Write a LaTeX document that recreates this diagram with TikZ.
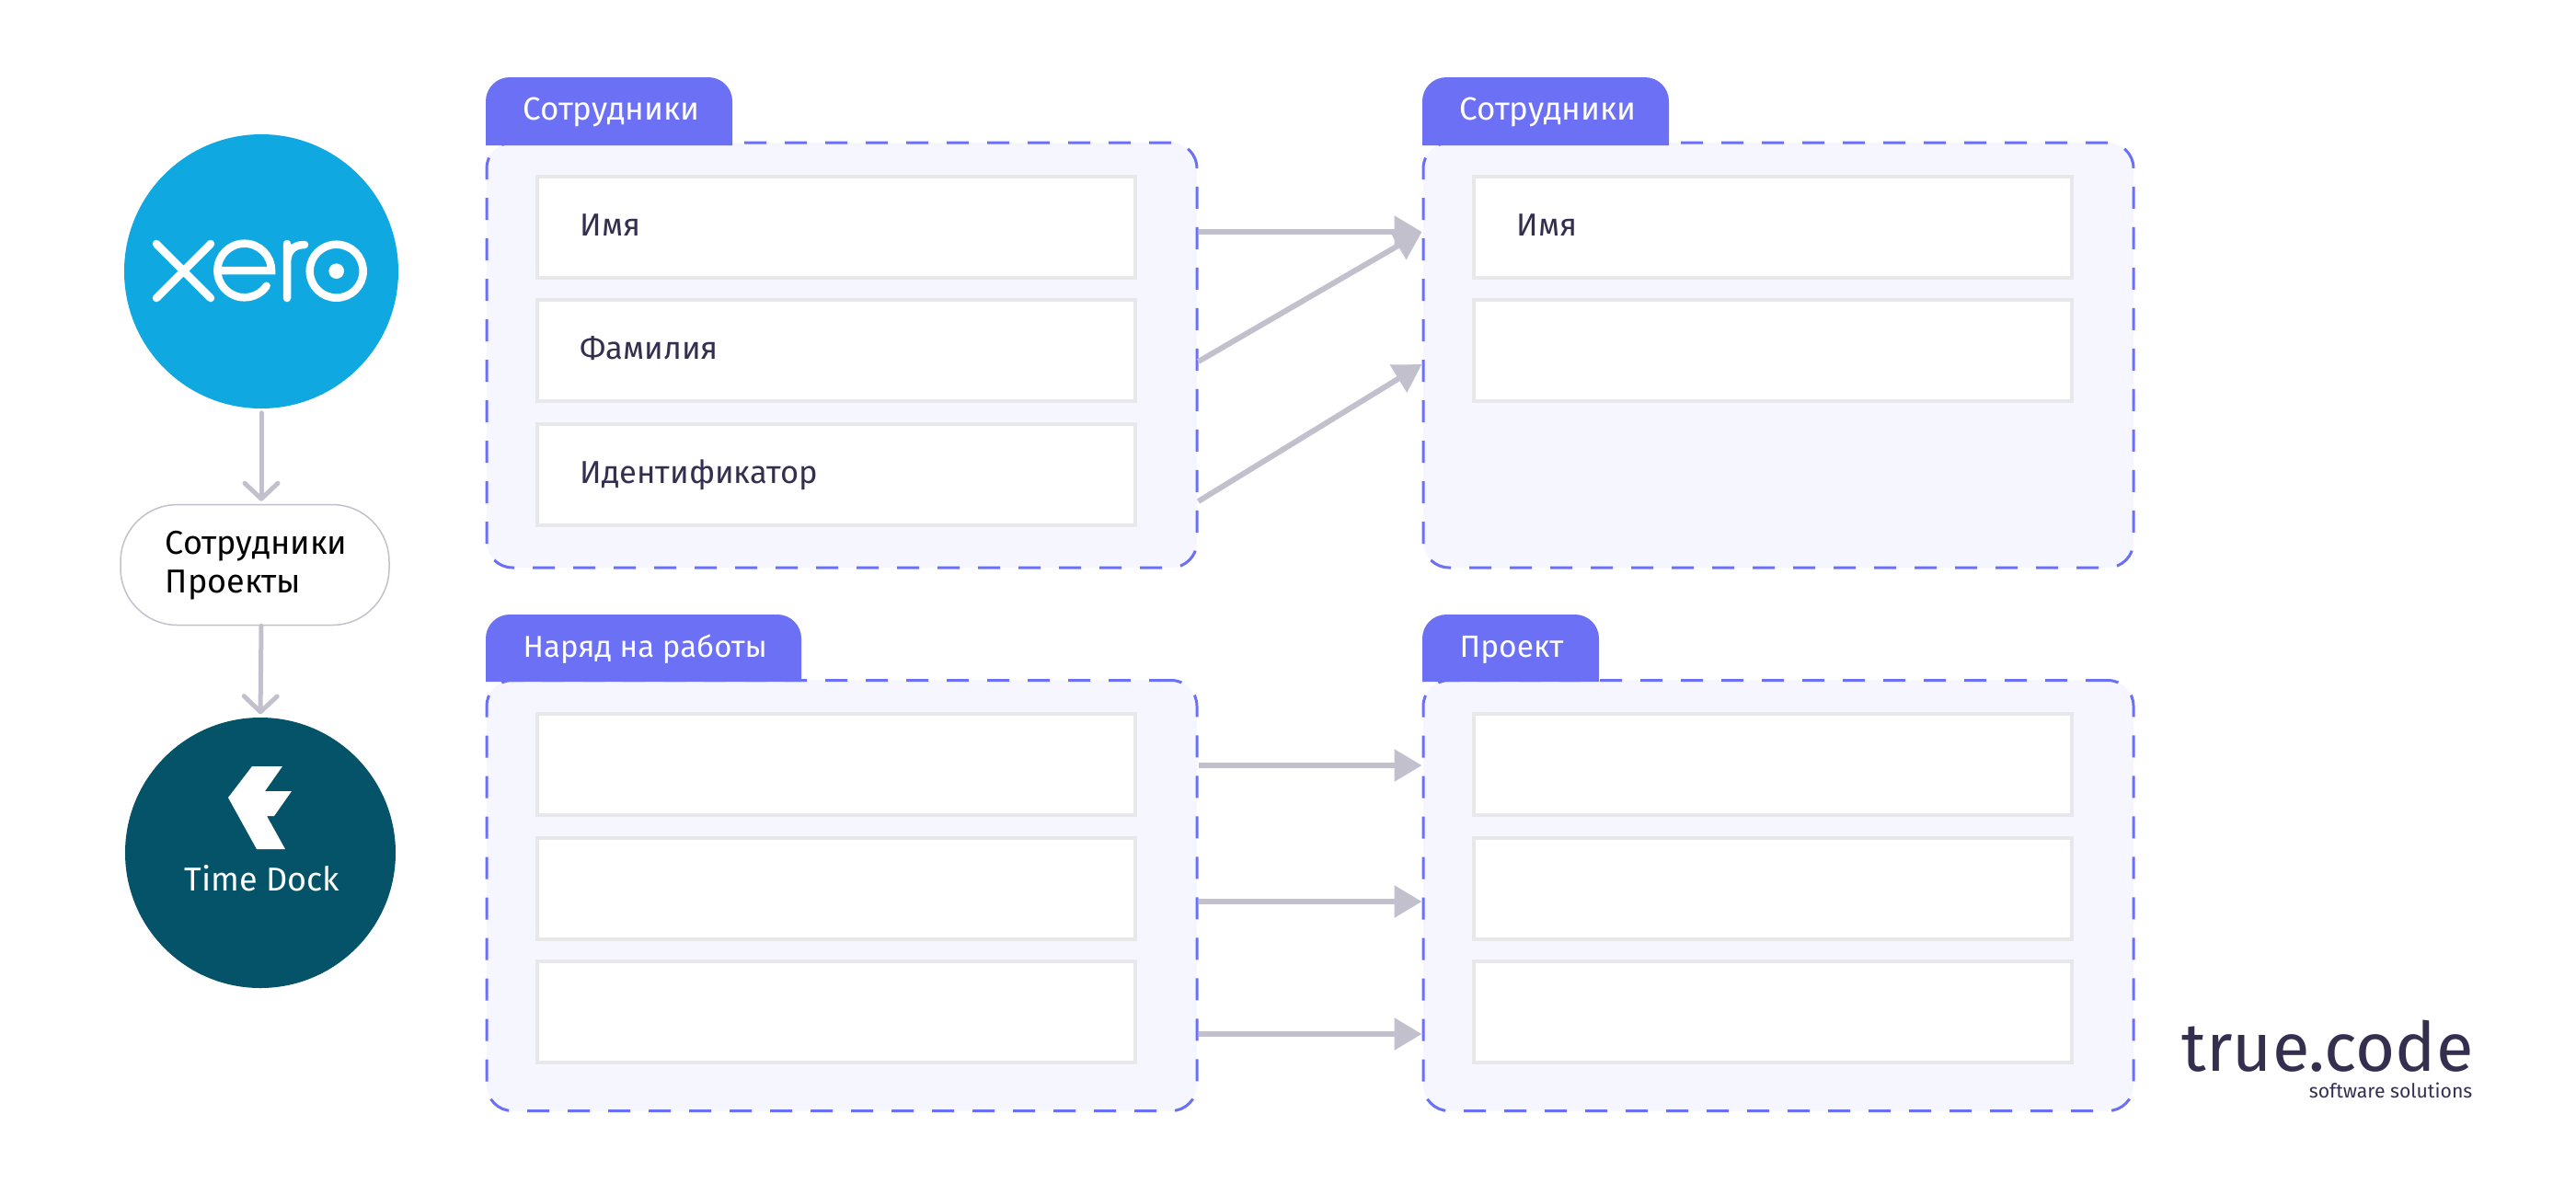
\documentclass[tikz,border=0pt]{standalone}
\usepackage{xcolor}
\usepackage{fontspec}
\setmainfont{Fira Sans}
\usepackage{tikz}
\usetikzlibrary{arrows.meta}
\definecolor{tabcolor}{HTML}{6B70F5}
\definecolor{panelcolor}{HTML}{F5F6FF}
\definecolor{rowcolor}{HTML}{E8E8EA}
\definecolor{flowcolor}{HTML}{C3C0CD}
\definecolor{inkcolor}{HTML}{342E4F}
\definecolor{xerocolor}{HTML}{0FA8E0}
\definecolor{dockcolor}{HTML}{055369}
\tikzset{
  panel/.style={draw=tabcolor, fill=panelcolor, rectangle, line width=0.03cm, rounded corners=0.28cm, dash pattern=on 0.24cm off 0.2cm, minimum width=7.72cm, inner sep=0pt},
  tabshape/.style={fill=tabcolor},
  tabtext/.style={anchor=base west, inner sep=0pt, text=white, font=\fontsize{0.35cm}{0.42cm}\selectfont},
  row/.style={draw=rowcolor, fill=white, rectangle, line width=0.04cm, minimum width=6.5cm, minimum height=1.1cm, inner sep=0pt},
  rowtext/.style={anchor=base west, inner sep=0pt, text=inkcolor, font=\fontsize{0.345cm}{0.42cm}\selectfont},
  flow/.style={draw=flowcolor, line width=0.06cm, -{Triangle[length=0.3cm,width=0.34cm]}},
  down/.style={draw=flowcolor, line width=0.05cm, line cap=round, -{Straight Barb[length=0.17cm,width=0.36cm,round]}},
  logoline/.style={draw=white, line width=0.085cm, line cap=round},
}

\begin{document}
\begin{tikzpicture}
\useasboundingbox (0,0) rectangle (28,-12.98);
% left column
\node[circle, fill=xerocolor, minimum size=2.98cm, inner sep=0pt] (xero) at (2.84,-2.95) {};
\node[draw=flowcolor, fill=white, rectangle, rounded corners=0.62cm, line width=0.015cm, minimum width=2.92cm, minimum height=1.31cm] (pill) at (2.77,-6.14) {};
\node[anchor=base west, inner sep=0pt, text=black, font=\fontsize{0.36cm}{0.42cm}\selectfont] (pillone) at (1.79,-6.02) {Сотрудники};
\node[anchor=base west, inner sep=0pt, text=black, font=\fontsize{0.36cm}{0.42cm}\selectfont] (pilltwo) at (1.79,-6.44) {Проекты};
\node[circle, fill=dockcolor, minimum size=2.94cm, inner sep=0pt] (dock) at (2.83,-9.27) {};
\node[anchor=base, inner sep=0pt, text=white, font=\fontsize{0.36cm}{0.44cm}\selectfont] (docktext) at (2.85,-9.68) {Time Dock};
\draw[down, shorten <=0.04cm, shorten >=0.03cm] (xero.south) -- (xero.south |- pill.north);
\draw[down, shorten >=0.03cm] (xero.south |- pill.south) -- (dock.north);
% xero logo
\draw[logoline] (1.70,-2.65) -- (2.29,-3.24) (2.29,-2.65) -- (1.70,-3.24);
\draw[logoline] (2.40,-2.94) -- (2.95,-2.94) arc (0:325:0.293);
\draw[logoline] (3.12,-2.65) -- (3.12,-3.24) (3.12,-2.86) .. controls (3.12,-2.72) and (3.20,-2.66) .. (3.31,-2.66);
\draw[logoline] (3.657,-2.947) circle (0.29);
\fill[white] (3.657,-2.947) circle (0.083);
% time dock logo
\fill[white] (2.74,-8.33) -- (3.07,-8.33) -- (2.88,-8.60) -- (3.17,-8.60) -- (2.98,-8.87) -- (2.90,-8.87) -- (3.10,-9.23) -- (2.79,-9.23) -- (2.48,-8.67) -- cycle;
% panels
\node[panel, minimum height=4.62cm] (staffa) at (9.15,-3.86) {};
\node[panel, minimum height=4.62cm] (staffb) at (19.33,-3.86) {};
\node[panel, minimum height=4.68cm] (orderp) at (9.15,-9.735) {};
\node[panel, minimum height=4.68cm] (projp) at (19.33,-9.735) {};
% tabs
\fill[tabshape] (5.28,-1.58) [rounded corners=0.26cm] -- (5.28,-0.84) -- (7.96,-0.84) [sharp corners] -- (7.96,-1.58) -- cycle;
\fill[tabshape] (15.46,-1.58) [rounded corners=0.26cm] -- (15.46,-0.84) -- (18.14,-0.84) [sharp corners] -- (18.14,-1.58) -- cycle;
\fill[tabshape] (5.28,-7.41) [rounded corners=0.26cm] -- (5.28,-6.68) -- (8.71,-6.68) [sharp corners] -- (8.71,-7.41) -- cycle;
\fill[tabshape] (15.46,-7.41) [rounded corners=0.26cm] -- (15.46,-6.68) -- (17.38,-6.68) [sharp corners] -- (17.38,-7.41) -- cycle;
\node[tabtext] (staffatab) at (5.68,-1.30) {Сотрудники};
\node[tabtext] (staffbtab) at (15.86,-1.30) {Сотрудники};
\node[tabtext, font=\fontsize{0.33cm}{0.42cm}\selectfont] (orderptab) at (5.68,-7.14) {Наряд на работы};
\node[tabtext, font=\fontsize{0.335cm}{0.42cm}\selectfont] (projptab) at (15.86,-7.14) {Проект};
% rows
\node[row] (staffaone) at (9.09,-2.47) {};
\node[row] (staffatwo) at (9.09,-3.81) {};
\node[row] (staffathree) at (9.09,-5.155) {};
\node[row] (staffbone) at (19.27,-2.47) {};
\node[row] (staffbtwo) at (19.27,-3.81) {};
\node[row] (orderpone) at (9.09,-8.31) {};
\node[row] (orderptwo) at (9.09,-9.655) {};
\node[row] (orderpthree) at (9.09,-11.0) {};
\node[row] (projpone) at (19.27,-8.31) {};
\node[row] (projptwo) at (19.27,-9.655) {};
\node[row] (projpthree) at (19.27,-11.0) {};
\node[rowtext] (nameatext) at (6.30,-2.56) {Имя};
\node[rowtext] (surnametext) at (6.30,-3.90) {Фамилия};
\node[rowtext] (idtext) at (6.30,-5.25) {Идентификатор};
\node[rowtext] (namebtext) at (16.48,-2.56) {Имя};
% arrows between panels
\draw[flow] ([yshift=1.34cm]staffa.east) -- ([yshift=1.34cm]staffb.west);
\draw[flow] ([yshift=-0.07cm]staffa.east) -- ([yshift=1.34cm]staffb.west);
\draw[flow] ([yshift=-1.59cm]staffa.east) -- ([yshift=-0.1cm]staffb.west);
\draw[flow] ([yshift=1.415cm]orderp.east) -- ([yshift=1.415cm]projp.west);
\draw[flow] ([yshift=-0.065cm]orderp.east) -- ([yshift=-0.065cm]projp.west);
\draw[flow] ([yshift=-1.505cm]orderp.east) -- ([yshift=-1.505cm]projp.west);
% true.code
\node[anchor=base east, inner sep=0pt, text=inkcolor, font=\fontsize{0.74cm}{0.9cm}\selectfont] (brand) at (26.89,-11.64) {true.code};
\node[anchor=base east, inner sep=0pt, text=inkcolor, font=\fontsize{0.212cm}{0.3cm}\selectfont] (brandsub) at (26.88,-11.93) {software solutions};
\end{tikzpicture}
\end{document}
